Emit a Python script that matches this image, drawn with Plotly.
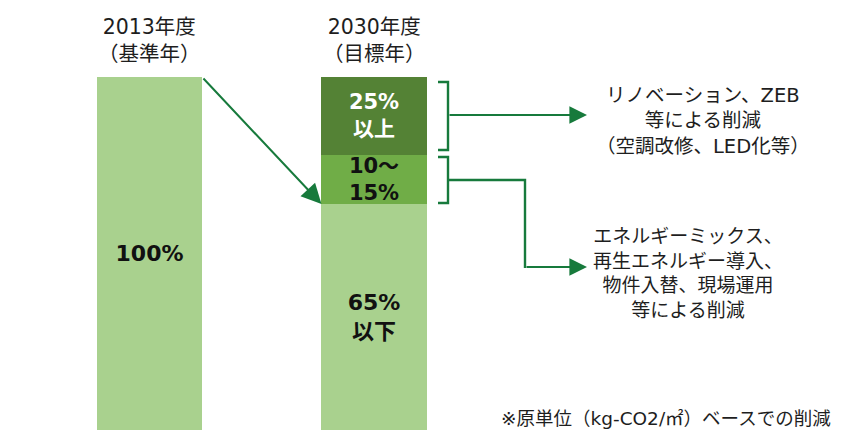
import plotly.graph_objects as go

# ---- data ----
bar_positions = [0, 1]
base_values = [100, 64]          # light green (2013: 100%, 2030: 65%以下)
mid_values = [None, 14]          # 10～15%
top_values = [None, 22]          # 25%以上
base_labels = ["100%", "65%<br>以下"]
mid_labels = ["", "10～<br>15%"]
top_labels = ["", "25%<br>以上"]
header_years = ["2013年度", "2030年度"]
header_notes = ["（基準年）", "（目標年）"]
note_upper = "リノベーション、ZEB<br>等による削減<br>（空調改修、LED化等）"
note_lower = "エネルギーミックス、<br>再生エネルギー導入、<br>物件入替、現場運用<br>等による削減"
footnote = "※原単位（kg-CO2/㎡）ベースでの削減"

# ---- layout helpers ----
OFF = 8                      # page body margin
W, H = 842 - OFF, 430 - OFF
TOP = 77
BAR_W = 0.468
LIGHT, MID, DARK = "#A9D18E", "#70AD47", "#548235"
LINE = "#177A3C"
FONT = "DejaVu Sans, Noto Sans CJK JP, sans-serif"
TXT = "#1E1E1E"

# x axis: bar centres at page pixels 149.5 and 374
PX_PER_UNIT = 374 - 149.5
X_LO = (OFF - 149.5) / PX_PER_UNIT
X_HI = (842 - 149.5) / PX_PER_UNIT


def px(xp):
    return (xp - OFF) / W


def py(yp):
    return (430 - yp) / (430 - TOP)


fig = go.Figure()
common = dict(width=BAR_W, textposition="inside", insidetextanchor="middle",
              constraintext="none", textangle=0, hoverinfo="skip")
fig.add_trace(go.Bar(x=bar_positions, y=base_values, text=base_labels,
                     marker=dict(color=LIGHT, line=dict(width=0)),
                     textfont=dict(family=FONT, size=22, color="#111111", weight="bold"),
                     **common))
fig.add_trace(go.Bar(x=bar_positions, y=mid_values, text=mid_labels,
                     marker=dict(color=MID, line=dict(width=0)),
                     textfont=dict(family=FONT, size=21, color="#111111", weight="bold"),
                     **common))
fig.add_trace(go.Bar(x=bar_positions, y=top_values, text=top_labels,
                     marker=dict(color=DARK, line=dict(width=0)),
                     textfont=dict(family=FONT, size=21, color="#FFFFFF", weight="bold"),
                     **common))

annotations = []
# headers
for xpos, yr, nt in zip(bar_positions, header_years, header_notes):
    annotations.append(dict(x=xpos, xref="x", y=py(41), yref="paper",
                            text=f"{yr}<br>{nt}", align="center",
                            showarrow=False, xanchor="center", yanchor="middle",
                            font=dict(family=FONT, size=20.5, color=TXT)))

# arrow from bar 1 top to bar 2 light top
annotations.append(dict(x=bar_positions[1] - BAR_W / 2, y=base_values[1], xref="x", yref="y",
                        ax=bar_positions[0] + BAR_W / 2, ay=base_values[0], axref="x", ayref="y",
                        showarrow=True, arrowhead=2, arrowsize=2, arrowwidth=2,
                        arrowcolor=LINE, text=""))

# right arrows (offsets in pixels)
annotations.append(dict(x=px(587), y=py(115), xref="paper", yref="paper",
                        ax=448 - 587, ay=0, axref="pixel", ayref="pixel",
                        showarrow=True, arrowhead=2, arrowsize=1.6, arrowwidth=2.2,
                        arrowcolor=LINE, text=""))
annotations.append(dict(x=px(587), y=py(267), xref="paper", yref="paper",
                        ax=525 - 587, ay=0, axref="pixel", ayref="pixel",
                        showarrow=True, arrowhead=2, arrowsize=1.6, arrowwidth=2.2,
                        arrowcolor=LINE, text=""))

# notes
annotations.append(dict(x=px(703), y=py(121), xref="paper", yref="paper", text=note_upper,
                        showarrow=False, xanchor="center", yanchor="middle", align="center",
                        font=dict(family=FONT, size=19.5, color=TXT)))
annotations.append(dict(x=px(688), y=py(273), xref="paper", yref="paper", text=note_lower,
                        showarrow=False, xanchor="center", yanchor="middle", align="center",
                        font=dict(family=FONT, size=19, color=TXT)))
annotations.append(dict(x=px(833), y=py(418), xref="paper", yref="paper", text=footnote,
                        showarrow=False, xanchor="right", yanchor="middle",
                        font=dict(family=FONT, size=18.5, color=TXT)))


def path(points):
    return "M " + " L ".join(f"{px(a)},{py(b)}" for a, b in points)


shapes = [
    dict(type="path", xref="paper", yref="paper",
         path=path([(438, 82), (448, 82), (448, 150), (438, 150)]),
         line=dict(color=LINE, width=2.4)),
    dict(type="path", xref="paper", yref="paper",
         path=path([(438, 157), (448, 157), (448, 203), (438, 203)]),
         line=dict(color=LINE, width=2.4)),
    dict(type="path", xref="paper", yref="paper",
         path=path([(448, 180), (525, 180), (525, 268)]),
         line=dict(color=LINE, width=2.4)),
]

fig.update_layout(
    width=W, height=H,
    barmode="stack",
    showlegend=False,
    plot_bgcolor="white", paper_bgcolor="white",
    margin=dict(l=0, r=0, t=TOP - OFF, b=0),
    xaxis=dict(range=[X_LO, X_HI], visible=False, fixedrange=True),
    yaxis=dict(range=[0, 100], visible=False, fixedrange=True),
    annotations=annotations,
    shapes=shapes,
)

fig.write_html("out.html")
